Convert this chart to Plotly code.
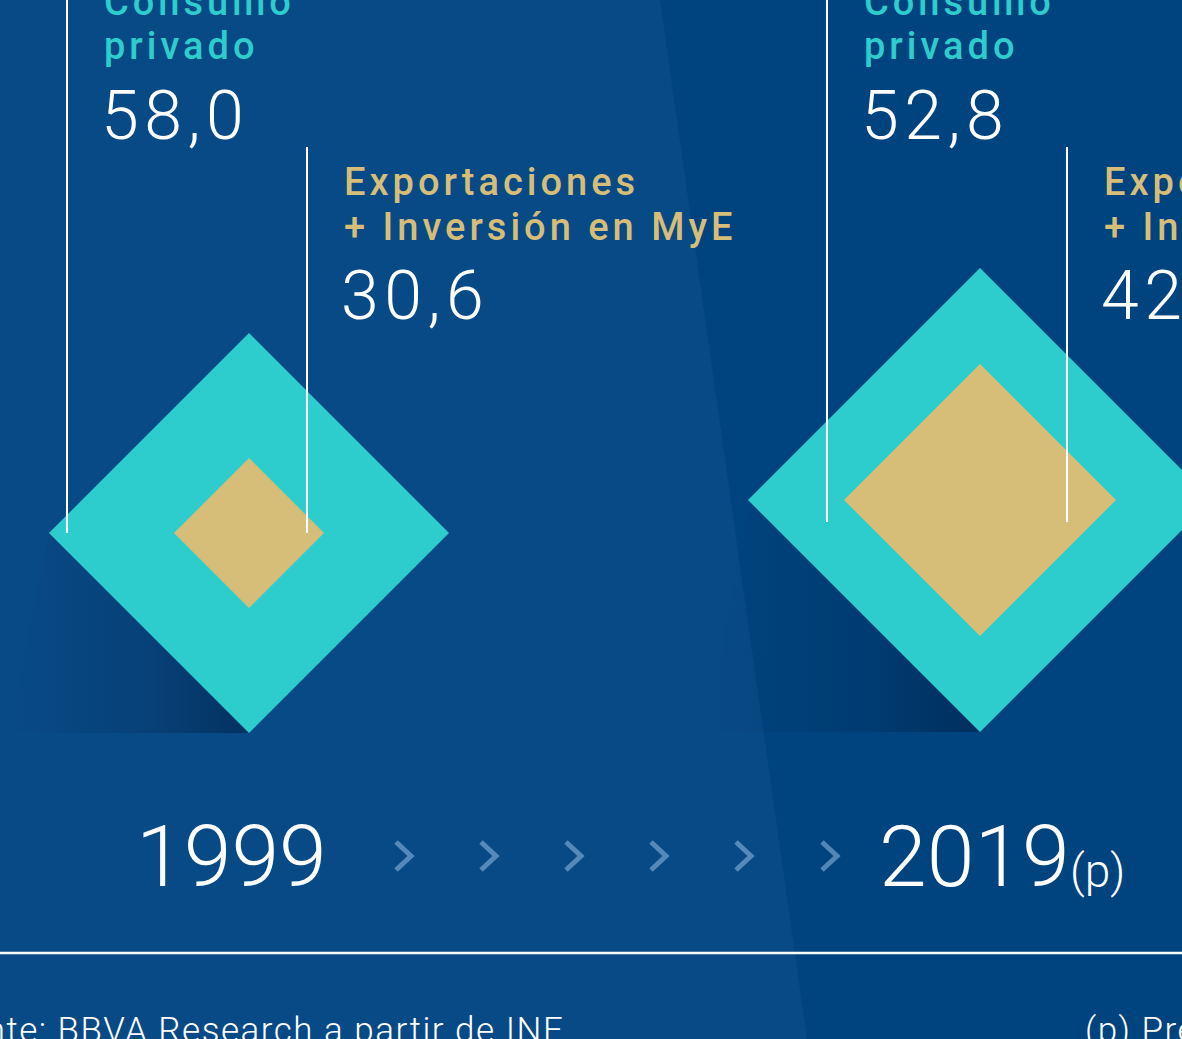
import json
import plotly.graph_objects as go

# ---------------- data ----------------
years = ["1999", "2019"]
year_suffix = ["", "(p)"]
consumo_privado = [58.0, 52.8]
export_inversion = [30.6, 42.0]
label_consumo = ["Consumo", "privado"]
label_export = ["Exportaciones", "+ Inversión en MyE"]
source_text = "Fuente: BBVA Research a partir de INE"
note_text = "(p) Previsión"

# ---------------- layout constants ----------------
W, H = 1182, 1039
BG_LIGHT = "#084A86"
BG_DARK = "#00447F"
TEAL = "#2ECDCD"
GOLD = "#D6BD78"
WHITE = "#FFFFFF"
CHEV = "rgba(150,190,230,0.55)"

centers_x = [249, 980]
centers_y = [533, 500]
outer_half = [200, 232]
inner_half = [75, 136]
block_dx = [0, 760]
line_bottom = [533, 522]
chevron_x = [404, 489, 574, 659, 744, 830]
chevron_y = 856

NUM_FONT = dict(family="Roboto", size=68, color=WHITE, weight=300)
LAB_FONT = dict(family="Roboto", size=38, weight=500)

fig = go.Figure()


def diamond(cx, cy, h):
    return [cx - h, cx, cx + h, cx, cx - h], [cy, cy - h, cy, cy + h, cy]


for i, yr in enumerate(years):
    cx, cy = centers_x[i], centers_y[i]
    ho, hi = outer_half[i], inner_half[i]
    base = cy + ho
    # shadow
    fig.add_trace(go.Scatter(
        x=[cx - ho - 40, cx, cx - ho, cx - ho - 40], y=[base, base, cy, base],
        mode="none", fill="toself",
        fillgradient=dict(type="horizontal",
                          colorscale=[[0, "rgba(0,25,60,0)"], [0.6, "rgba(0,25,60,0.2)"], [1, "rgba(0,25,60,0.5)"]]),
        hoverinfo="skip", showlegend=False))
    xo, yo = diamond(cx, cy, ho)
    fig.add_trace(go.Scatter(x=xo, y=yo, mode="none", fill="toself", fillcolor=TEAL,
                             hoverinfo="skip", showlegend=False))
    xi, yi = diamond(cx, cy, hi)
    fig.add_trace(go.Scatter(x=xi, y=yi, mode="none", fill="toself", fillcolor=GOLD,
                             hoverinfo="skip", showlegend=False))

# white leader lines
for i in range(len(years)):
    dx = block_dx[i]
    fig.add_trace(go.Scatter(x=[67 + dx, 67 + dx, None, 307 + dx, 307 + dx],
                             y=[-20, line_bottom[i], None, 147, line_bottom[i]],
                             mode="lines", line=dict(color=WHITE, width=2),
                             hoverinfo="skip", showlegend=False))

# chevrons
cx_list, cy_list = [], []
for x in chevron_x:
    cx_list += [x - 8, x + 7, x - 8, None]
    cy_list += [chevron_y - 14, chevron_y, chevron_y + 14, None]
fig.add_trace(go.Scatter(x=cx_list, y=cy_list, mode="lines",
                         line=dict(color=CHEV, width=5), hoverinfo="skip", showlegend=False))

annotations = []
label_idx, num_idx, foot_idx = [], [], []


def add(store, **kw):
    if store is not None:
        store.append(len(annotations))
    kw.setdefault("align", kw.get("xanchor", "center"))
    annotations.append(kw)


for i, yr in enumerate(years):
    dx = block_dx[i]
    add(label_idx, x=102 + dx, y=2, text=label_consumo[0], xanchor="left", yanchor="middle",
        font=dict(LAB_FONT, color=TEAL))
    add(label_idx, x=102 + dx, y=46, text=label_consumo[1], xanchor="left", yanchor="middle",
        font=dict(LAB_FONT, color=TEAL))
    add(num_idx, x=99 + dx, y=116, text=f"{consumo_privado[i]:.1f}".replace(".", ","),
        xanchor="left", yanchor="middle", font=NUM_FONT)
    add(label_idx, x=342 + dx, y=182, text=label_export[0], xanchor="left", yanchor="middle",
        font=dict(LAB_FONT, color=GOLD))
    add(label_idx, x=342 + dx, y=227, text=label_export[1], xanchor="left", yanchor="middle",
        font=dict(LAB_FONT, color=GOLD))
    add(num_idx, x=339 + dx, y=296, text=f"{export_inversion[i]:.1f}".replace(".", ","),
        xanchor="left", yanchor="middle", font=NUM_FONT)

# years
add(None, x=231, y=856, text=years[0], xanchor="center", yanchor="middle",
    font=dict(family="Roboto", size=86, color=WHITE, weight=300))
add(None, x=1072, y=856, text=years[1], xanchor="right", yanchor="middle",
    font=dict(family="Roboto", size=86, color=WHITE, weight=300))
add(None, x=1068, y=871, text=year_suffix[1], xanchor="left", yanchor="middle",
    font=dict(family="Roboto", size=46, color=WHITE, weight=300))

# footer
add(foot_idx, x=566, y=1030, text=source_text, xanchor="right", yanchor="middle",
    font=dict(family="Roboto", size=35, color=WHITE, weight=300))
add(foot_idx, x=1083, y=1030, text=note_text, xanchor="left", yanchor="middle",
    font=dict(family="Roboto", size=35, color=WHITE, weight=300))

for a in annotations:
    a.update(xref="x", yref="y", showarrow=False)

shapes = [
    dict(type="path", path=f"M 660,0 L {W},0 L {W},{H} L 807,{H} Z", xref="x", yref="y",
         fillcolor=BG_DARK, line=dict(width=0), layer="below"),
    dict(type="line", x0=0, x1=W, y0=953, y1=953, xref="x", yref="y",
         line=dict(color=WHITE, width=2.5)),
]

fig.update_layout(
    width=W, height=H, margin=dict(l=0, r=0, t=0, b=0),
    paper_bgcolor=BG_LIGHT, plot_bgcolor="rgba(0,0,0,0)",
    xaxis=dict(range=[0, W], visible=False, fixedrange=True),
    yaxis=dict(range=[H, 0], visible=False, fixedrange=True),
    shapes=shapes, annotations=annotations, showlegend=False,
)

spacing = {}
for k in label_idx:
    spacing[k] = "4px"
for k in num_idx:
    spacing[k] = "5.5px"
for k in foot_idx:
    spacing[k] = "1.5px"

post = """
document.body.style.margin = '0';
document.body.style.overflow = 'hidden';
var gd = document.getElementById('{plot_id}');
var sp = %s;
gd.querySelectorAll('g.annotation').forEach(function(g) {
  var k = g.getAttribute('data-index');
  if (sp[k] !== undefined) {
    g.querySelectorAll('text').forEach(function(t) { t.style.letterSpacing = sp[k]; });
  }
});
""" % json.dumps({str(k): v for k, v in spacing.items()})

fig.write_html("out.html", post_script=post, config={"displayModeBar": False})
